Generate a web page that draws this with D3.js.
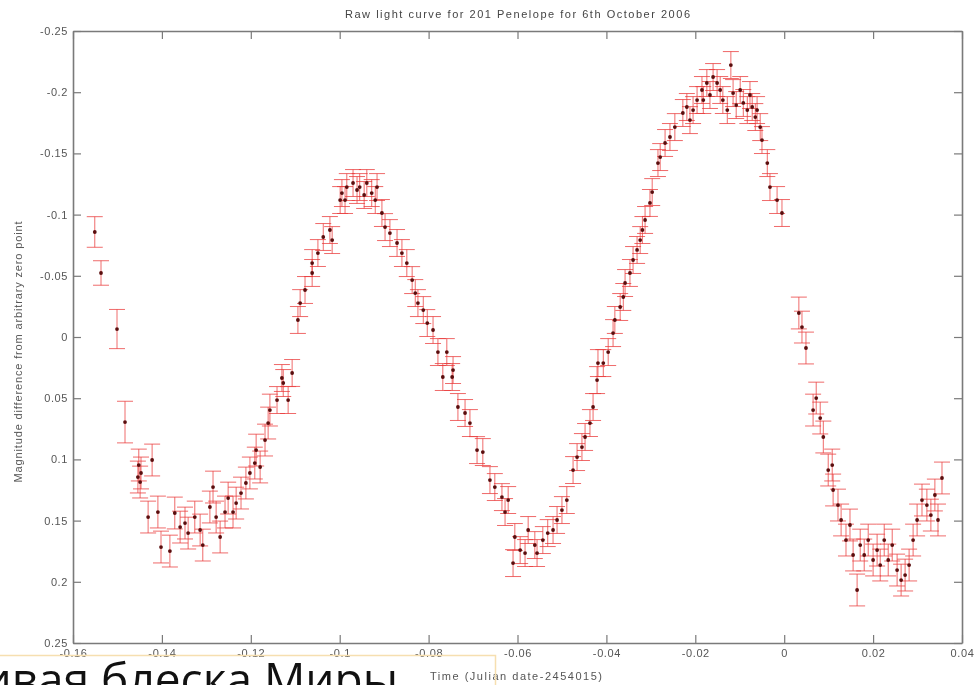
<!DOCTYPE html>
<html>
<head>
<meta charset="utf-8">
<script src="https://cdn.jsdelivr.net/npm/d3@7"></script>
<style>
  html, body { margin: 0; padding: 0; background: #fff; }
  svg { display: block; }
</style>
</head>
<body>
<svg id="chart"></svg>
<script>
const width = 978;
const height = 685;
const margin = { top: 31, right: 16, bottom: 42, left: 73 };  // plot box 73..962 x 31..643

// Time (Julian date - 2454015)
const time = [
  -0.1551, -0.1537, -0.1501, -0.1483, -0.1454, -0.1447, -0.1449, -0.1452, -0.1422, -0.1431,
  -0.1409, -0.1402, -0.1382, -0.1371, -0.1359, -0.1348, -0.1341, -0.1326, -0.1314, -0.1308,
  -0.1292, -0.1285, -0.1278, -0.1269, -0.1258, -0.1251, -0.1240, -0.1233, -0.1222, -0.1211,
  -0.1202, -0.1191, -0.1188, -0.1179, -0.1168, -0.1161, -0.1157, -0.1141, -0.1127, -0.1116,
  -0.1130, -0.1107, -0.1094, -0.1089, -0.1078, -0.1062, -0.1062, -0.1049, -0.1037, -0.1022,
  -0.1017, -0.0999, -0.0995, -0.0984, -0.0970, -0.0955, -0.0939, -0.0928, -0.0916, -0.0905,
  -0.0898, -0.0887, -0.0871, -0.0860, -0.0849, -0.0837, -0.0830, -0.0824, -0.0812, -0.0803,
  -0.0790, -0.0779, -0.0759, -0.0768, -0.0747, -0.0745, -0.0734, -0.0718, -0.0707, -0.0691,
  -0.0678, -0.0662, -0.0651, -0.0635, -0.0621, -0.0628, -0.0606, -0.0610, -0.0594, -0.0583,
  -0.0576, -0.0561, -0.0556, -0.0543, -0.0532, -0.0520, -0.0511, -0.0500, -0.0489, -0.0475,
  -0.0466, -0.0455, -0.0448, -0.0437, -0.0430, -0.0421, -0.0419, -0.0407, -0.0396, -0.0385,
  -0.0381, -0.0369, -0.0362, -0.0358, -0.0347, -0.0340, -0.0331, -0.0324, -0.0319, -0.0313,
  -0.0302, -0.0297, -0.0284, -0.0279, -0.0268, -0.0257, -0.0246, -0.0228, -0.0219, -0.0205,
  -0.0196, -0.0185, -0.0174, -0.0160, -0.0151, -0.0138, -0.0120, -0.0115, -0.0099, -0.0092,
  -0.0083, -0.0072, -0.0065, -0.0054, -0.0038, -0.0032, -0.0016, -0.0005, 0.0033, 0.0040,
  0.0049, 0.0065, 0.0072, 0.0081, 0.0088, 0.0099, 0.0108, 0.0110, 0.0121, 0.0128,
  0.0139, 0.0148, 0.0155, 0.0164, 0.0171, 0.0180, 0.0189, 0.0200, 0.0209, 0.0216,
  0.0225, 0.0234, 0.0243, 0.0254, 0.0263, 0.0272, 0.0281, 0.0290, 0.0299, 0.0310,
  0.0321, 0.0330, 0.0339, 0.0346, 0.0355, -0.0988, -0.0961, -0.0945, -0.0920, -0.0212,
  -0.0182, -0.0167, -0.0144, -0.0128, -0.0108, -0.0077, -0.0061, -0.0050
];

// Magnitude difference from arbitrary zero point
const magnitude = [
  -0.0858, -0.0523, -0.0065, 0.0695, 0.1144, 0.1111, 0.1185, 0.1046, 0.1005, 0.1471,
  0.1430, 0.1716, 0.1749, 0.1438, 0.1553, 0.1520, 0.1602, 0.1471, 0.1577, 0.1700,
  0.1389, 0.1226, 0.1471, 0.1634, 0.1430, 0.1316, 0.1430, 0.1357, 0.1275, 0.1193,
  0.1111, 0.1030, 0.0924, 0.1062, 0.0842, 0.0703, 0.0597, 0.0515, 0.0376, 0.0515,
  0.0335, 0.0294, -0.0139, -0.0277, -0.0384, -0.0523, -0.0604, -0.0686, -0.0817, -0.0874,
  -0.0792, -0.1119, -0.1176, -0.1225, -0.1258, -0.1225, -0.1258, -0.1176, -0.1225, -0.1013,
  -0.0898, -0.0849, -0.0768, -0.0686, -0.0604, -0.0465, -0.0359, -0.0277, -0.0220, -0.0114,
  -0.0057, 0.0123, 0.0123, 0.0327, 0.0327, 0.0270, 0.0572, 0.0621, 0.0703, 0.0924,
  0.0940, 0.1169, 0.1226, 0.1308, 0.1332, 0.1430, 0.1634, 0.1847, 0.1741, 0.1765,
  0.1577, 0.1700, 0.1765, 0.1659, 0.1602, 0.1577, 0.1495, 0.1414, 0.1332, 0.1087,
  0.0981, 0.0899, 0.0817, 0.0703, 0.0572, 0.0352, 0.0213, 0.0213, 0.0123, -0.0032,
  -0.0139, -0.0245, -0.0327, -0.0441, -0.0523, -0.0629, -0.0711, -0.0792, -0.0874, -0.0956,
  -0.1095, -0.1184, -0.1421, -0.1470, -0.1585, -0.1634, -0.1715, -0.1830, -0.1879, -0.1854,
  -0.1936, -0.2018, -0.2075, -0.2124, -0.2075, -0.1936, -0.2222, -0.1993, -0.2018, -0.1912,
  -0.1854, -0.1879, -0.1797, -0.1715, -0.1421, -0.1225, -0.1119, -0.1013, -0.0196, -0.0081,
  0.0090, 0.0597, 0.0499, 0.0662, 0.0817, 0.1087, 0.1046, 0.1250, 0.1373, 0.1495,
  0.1659, 0.1536, 0.1781, 0.2067, 0.1700, 0.1781, 0.1659, 0.1822, 0.1741, 0.1863,
  0.1659, 0.1822, 0.1700, 0.1904, 0.1986, 0.1945, 0.1863, 0.1659, 0.1495, 0.1332,
  0.1373, 0.1455, 0.1291, 0.1495, 0.1152, -0.1119, -0.1201, -0.1160, -0.1119, -0.1772,
  -0.1936, -0.1977, -0.2018, -0.1854, -0.1895, -0.1977, -0.1854, -0.1609
];

// Half-length of each error bar (magnitudes)
const errorBar = [
  0.0125, 0.010, 0.016, 0.017, 0.013, 0.013, 0.013, 0.013, 0.013, 0.013,
  0.013, 0.013, 0.013, 0.013, 0.013, 0.013, 0.013, 0.013, 0.013, 0.013,
  0.013, 0.013, 0.013, 0.013, 0.013, 0.013, 0.013, 0.013, 0.013, 0.013,
  0.013, 0.013, 0.013, 0.013, 0.013, 0.013, 0.013, 0.011, 0.011, 0.011,
  0.011, 0.011, 0.011, 0.011, 0.011, 0.011, 0.011, 0.011, 0.011, 0.011,
  0.011, 0.011, 0.011, 0.011, 0.011, 0.011, 0.011, 0.011, 0.011, 0.011,
  0.011, 0.011, 0.011, 0.011, 0.011, 0.011, 0.011, 0.011, 0.011, 0.011,
  0.011, 0.011, 0.011, 0.011, 0.011, 0.011, 0.011, 0.011, 0.011, 0.011,
  0.011, 0.011, 0.011, 0.011, 0.011, 0.011, 0.011, 0.011, 0.011, 0.011,
  0.011, 0.011, 0.011, 0.011, 0.011, 0.011, 0.011, 0.011, 0.011, 0.011,
  0.011, 0.011, 0.011, 0.011, 0.011, 0.011, 0.011, 0.011, 0.011, 0.011,
  0.011, 0.011, 0.011, 0.011, 0.011, 0.011, 0.011, 0.011, 0.011, 0.011,
  0.011, 0.011, 0.011, 0.011, 0.011, 0.011, 0.011, 0.011, 0.011, 0.011,
  0.011, 0.011, 0.011, 0.011, 0.011, 0.011, 0.011, 0.011, 0.011, 0.011,
  0.011, 0.011, 0.011, 0.011, 0.011, 0.011, 0.011, 0.011, 0.013, 0.013,
  0.013, 0.013, 0.013, 0.013, 0.013, 0.013, 0.013, 0.013, 0.013, 0.013,
  0.013, 0.013, 0.013, 0.013, 0.013, 0.013, 0.013, 0.013, 0.013, 0.013,
  0.013, 0.013, 0.013, 0.013, 0.013, 0.013, 0.013, 0.013, 0.013, 0.013,
  0.013, 0.013, 0.013, 0.013, 0.013, 0.011, 0.011, 0.011, 0.011, 0.011,
  0.011, 0.011, 0.011, 0.011, 0.011, 0.011, 0.011, 0.011
];

const xTicks = [-0.16, -0.14, -0.12, -0.1, -0.08, -0.06, -0.04, -0.02, 0, 0.02, 0.04];
const yTicks = [-0.25, -0.2, -0.15, -0.1, -0.05, 0, 0.05, 0.1, 0.15, 0.2, 0.25];

const title = "Raw light curve for 201 Penelope for 6th October 2006";
const xLabel = "Time (Julian date-2454015)";
const yLabel = "Magnitude difference from arbitrary zero point";
const slideText = "Кривая блеска Миры";

const labelFont = "'Liberation Sans', Arial, sans-serif";

const svg = d3.select("#chart")
    .attr("width", width)
    .attr("height", height);

const defs = svg.append("defs");
defs.append("filter")
    .attr("id", "soft")
    .attr("x", "-5%").attr("y", "-5%")
    .attr("width", "110%").attr("height", "110%")
  .append("feGaussianBlur")
    .attr("stdDeviation", 0.45);

const innerW = width - margin.left - margin.right;
const innerH = height - margin.top - margin.bottom;

const x = d3.scaleLinear().domain([-0.16, 0.04]).range([0, innerW]);
const y = d3.scaleLinear().domain([-0.25, 0.25]).range([0, innerH]);  // reversed magnitudes

const fmt = d => String(+d.toFixed(3));

const chart = svg.append("g")
    .attr("filter", "url(#soft)");

const g = chart.append("g")
    .attr("transform", `translate(${margin.left},${margin.top})`);

const points = time.map((t, i) => ({ t, m: magnitude[i], e: errorBar[i] }));

// Error bars
const capHalf = 8;
const bars = g.append("g")
    .attr("stroke", "#ea3a3a")
    .attr("stroke-width", 1)
    .attr("stroke-opacity", 0.75);

bars.selectAll(".stem")
    .data(points)
    .enter()
    .append("line")
    .attr("x1", d => x(d.t))
    .attr("x2", d => x(d.t))
    .attr("y1", d => y(d.m - d.e))
    .attr("y2", d => y(d.m + d.e));

bars.selectAll(".capTop")
    .data(points)
    .enter()
    .append("line")
    .attr("x1", d => x(d.t) - capHalf)
    .attr("x2", d => x(d.t) + capHalf)
    .attr("y1", d => y(d.m - d.e))
    .attr("y2", d => y(d.m - d.e));

bars.selectAll(".capBottom")
    .data(points)
    .enter()
    .append("line")
    .attr("x1", d => x(d.t) - capHalf)
    .attr("x2", d => x(d.t) + capHalf)
    .attr("y1", d => y(d.m + d.e))
    .attr("y2", d => y(d.m + d.e));

// Points
g.append("g")
    .selectAll("circle")
    .data(points)
    .enter()
    .append("circle")
    .attr("cx", d => x(d.t))
    .attr("cy", d => y(d.m))
    .attr("r", 1.9)
    .attr("fill", "#5a1010");

// Axes, MATLAB style box with inward ticks
const axisColor = "#7a7a7a";
const tickLen = 8;

const axisBottomG = g.append("g")
    .attr("transform", `translate(0,${innerH})`)
    .call(d3.axisBottom(x).tickValues(xTicks).tickFormat(fmt)
        .tickSizeInner(-tickLen).tickSizeOuter(0).tickPadding(6));
const axisTopG = g.append("g")
    .call(d3.axisTop(x).tickValues(xTicks).tickFormat("")
        .tickSizeInner(-tickLen).tickSizeOuter(0));
const axisLeftG = g.append("g")
    .call(d3.axisLeft(y).tickValues(yTicks).tickFormat(fmt)
        .tickSizeInner(-tickLen).tickSizeOuter(0).tickPadding(5));
const axisRightG = g.append("g")
    .attr("transform", `translate(${innerW},0)`)
    .call(d3.axisRight(y).tickValues(yTicks).tickFormat("")
        .tickSizeInner(-tickLen).tickSizeOuter(0));

[axisBottomG, axisTopG, axisLeftG, axisRightG].forEach(a => {
    a.select(".domain").attr("stroke", axisColor).attr("stroke-width", 1.6);
    a.selectAll(".tick line").attr("stroke", axisColor).attr("stroke-width", 1.2);
    a.selectAll("text")
        .attr("fill", "#555")
        .style("font-family", labelFont)
        .style("font-size", "11px")
        .style("letter-spacing", "0.6px");
});

// Title and axis labels
chart.append("text")
    .attr("x", margin.left + innerW / 2)
    .attr("y", 18)
    .attr("text-anchor", "middle")
    .attr("fill", "#444")
    .attr("textLength", 345)
    .attr("lengthAdjust", "spacing")
    .style("font-family", labelFont)
    .style("font-size", "11px")
    .text(title);

chart.append("text")
    .attr("x", 516)
    .attr("y", 680)
    .attr("text-anchor", "middle")
    .attr("fill", "#555")
    .attr("textLength", 172)
    .attr("lengthAdjust", "spacing")
    .style("font-family", labelFont)
    .style("font-size", "11px")
    .text(xLabel);

chart.append("text")
    .attr("transform", `translate(22,${margin.top + innerH / 2 + 15}) rotate(-90)`)
    .attr("text-anchor", "middle")
    .attr("fill", "#555")
    .attr("textLength", 261)
    .attr("lengthAdjust", "spacing")
    .style("font-family", labelFont)
    .style("font-size", "11px")
    .text(yLabel);

// Slide text box overlapping the bottom of the picture
svg.append("path")
    .attr("d", "M0,655.5H495.5V685")
    .attr("fill", "none")
    .attr("stroke", "#f6dfb0")
    .attr("stroke-width", 1.5);

svg.append("text")
    .attr("x", 398)
    .attr("y", 696)
    .attr("text-anchor", "end")
    .attr("fill", "#111")
    .style("font-family", "'Open Sans', sans-serif")
    .style("font-size", "46px")
    .text(slideText);
</script>
</body>
</html>
